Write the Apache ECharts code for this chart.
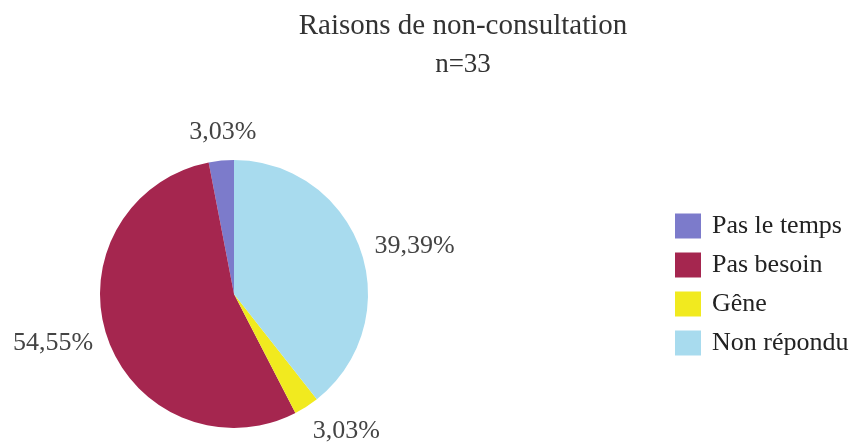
<!DOCTYPE html>
<html><head><meta charset="utf-8">
<script src="https://cdn.jsdelivr.net/npm/echarts@6/dist/echarts.min.js"></script>
<style>html,body{margin:0;padding:0;background:#fff}#c{width:858px;height:445px}</style>
</head><body><div id="c"></div>
<script>
const categories = ['Pas le temps', 'Pas besoin', 'Gêne', 'Non répondu'];
const values = [3.03, 54.55, 3.03, 39.39];
const colors = ['#7c7bcb', '#a5264f', '#f1ea1f', '#a8dbee'];
const titleText = 'Raisons de non-consultation';
const subText = 'n=33';

const lineLens = [[29, -43], [16, -6], [32, -16], [10, 2]];
const serif = '"Liberation Serif", "DejaVu Serif", serif';

const chart = echarts.init(document.getElementById('c'));
chart.setOption({
  backgroundColor: '#fff',
  animation: false,
  title: {
    text: titleText,
    subtext: subText,
    left: 458,
    top: 7,
    textAlign: 'center',
    itemGap: 10,
    textStyle: { fontFamily: serif, fontSize: 29, fontWeight: 'normal', color: '#333' },
    subtextStyle: { fontFamily: serif, fontSize: 27, color: '#333' }
  },
  legend: {
    orient: 'vertical',
    left: 670,
    top: 208,
    itemWidth: 26,
    itemHeight: 25,
    itemGap: 13,
    icon: 'rect',
    data: categories,
    textStyle: { fontFamily: serif, fontSize: 26, color: '#222', padding: [0, 0, 0, 6] }
  },
  series: [{
    type: 'pie',
    center: [234, 294],
    radius: 134,
    startAngle: 90,
    clockwise: false,
    label: {
      show: true,
      position: 'outside',
      fontFamily: serif,
      fontSize: 26,
      color: '#444',
      formatter: p => p.value.toFixed(2).replace('.', ',') + '%'
    },
    labelLine: { show: false },
    data: categories.map((name, i) => ({
      name: name,
      value: values[i],
      itemStyle: { color: colors[i] },
      labelLine: { show: false, length: lineLens[i][0], length2: lineLens[i][1] }
    }))
  }]
});
</script></body></html>
